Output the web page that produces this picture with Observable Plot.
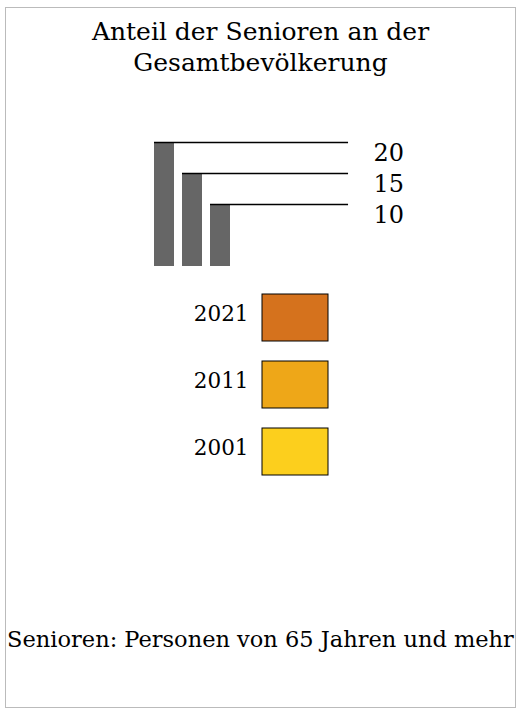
<!DOCTYPE html>
<html>
<head>
<meta charset="utf-8">
<script src="https://cdn.jsdelivr.net/npm/d3@7"></script>
<script src="https://cdn.jsdelivr.net/npm/@observablehq/plot@0.6"></script>
<style>
  html, body { margin: 0; padding: 0; background: #fff; }
  body { width: 521px; height: 711px; position: relative; font-family: "DejaVu Serif", serif; color: #000; }
  #frame { position: absolute; left: 5px; top: 7px; width: 511px; height: 701px; border: 1px solid #bbb; box-sizing: border-box; }
  #title { position: absolute; left: 0; top: 16px; width: 521px; text-align: center; font-size: 25px; line-height: 31px; }
  #caption { position: absolute; left: 0; top: 625px; width: 521px; text-align: center; font-size: 22.5px; line-height: 28px; white-space: nowrap; }
  .plot { position: absolute; left: 0; }
</style>
</head>
<body>
<div id="frame"></div>
<div id="title">Anteil der Senioren an der<br>Gesamtbevölkerung</div>
<div id="sizes" class="plot" style="top:130px"></div>
<div id="colors" class="plot" style="top:280px"></div>
<div id="caption">Senioren: Personen von 65 Jahren und mehr</div>
<script>
// Data
const sizeValues = [20, 15, 10];
const sizeLabels = ["20", "15", "10"];
const years = ["2021", "2011", "2001"];
const yearColors = ["#D5721D", "#EEA718", "#FCCF1D"];

// Size legend
const sizeRows = sizeValues.map((v, i) => ({value: v, label: sizeLabels[i], i}));
const barFrac = 20 / 28;
const lineEnd = 6.93;
const sizePlot = Plot.plot({
  width: 521,
  height: 145,
  marginTop: 12,
  marginBottom: 9,
  marginLeft: 0,
  marginRight: 0,
  x: {type: "linear", domain: [0, 10], range: [154, 434], axis: null},
  y: {type: "linear", domain: [0, 20], axis: null},
  style: {fontFamily: "DejaVu Serif", overflow: "visible"},
  marks: [
    Plot.rectY(sizeRows, {x1: "i", x2: d => d.i + barFrac, y1: 0, y2: "value", fill: "#666666"}),
    Plot.ruleY(sizeRows, {y: "value", x1: "i", x2: () => lineEnd, stroke: "#000", strokeWidth: 1.5}),
    Plot.text(sizeRows, {x: () => lineEnd, y: "value", text: "label", dx: 25, dy: 11, textAnchor: "start", fontSize: 24, fill: "#000"})
  ]
});
document.getElementById("sizes").append(sizePlot);

// Colour legend
const colorRows = years.map((y, i) => ({year: y, key: "swatch"}));
const colorPlot = Plot.plot({
  width: 521,
  height: 210,
  margin: 0,
  x: {type: "band", domain: ["swatch"], range: [262, 328], padding: 0, axis: null},
  y: {type: "band", domain: years, range: [14, 195], paddingInner: 20 / 67, paddingOuter: 0, axis: null},
  color: {type: "ordinal", domain: years, range: yearColors},
  style: {fontFamily: "DejaVu Serif", overflow: "visible"},
  marks: [
    Plot.cell(colorRows, {x: "key", y: "year", fill: "year", stroke: "#000", strokeWidth: 1}),
    Plot.text(colorRows, {x: "key", y: "year", text: "year", dx: -47, dy: -4, textAnchor: "end", fontSize: 21.5, fill: "#000"})
  ]
});
document.getElementById("colors").append(colorPlot);
</script>
</body>
</html>
